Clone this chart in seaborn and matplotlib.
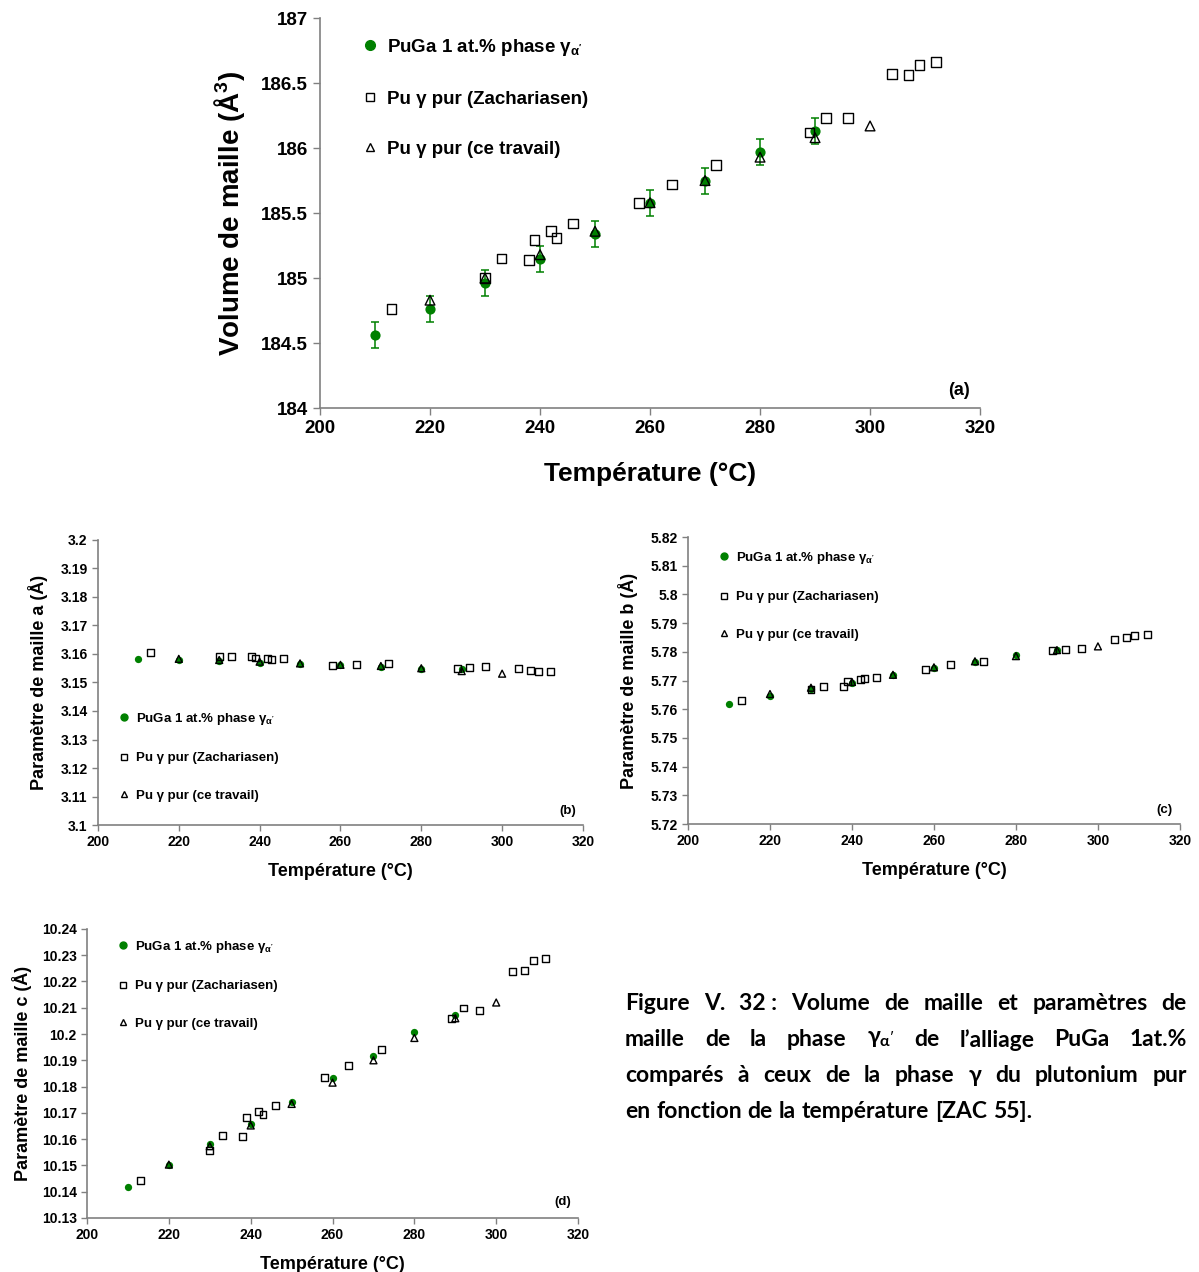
import numpy as np
import pandas as pd
import seaborn as sns
import matplotlib.pyplot as plt
from matplotlib.lines import Line2D
from matplotlib.ticker import FuncFormatter

sns.set_style("white")
plt.rcParams['font.family'] = ['Liberation Sans', 'DejaVu Sans']
plt.rcParams['font.weight'] = 'bold'
plt.rcParams['mathtext.default'] = 'regular'
plt.rcParams['text.color'] = 'black'
plt.rcParams['axes.labelcolor'] = 'black'
plt.rcParams['xtick.color'] = 'black'
plt.rcParams['ytick.color'] = 'black'

# temperatures (°C)
t_puga = [210, 220, 230, 240, 250, 260, 270, 280, 290]
t_trav = [220, 230, 240, 250, 260, 270, 280, 290, 300]
t_zach = [213, 230, 233, 238, 239, 242, 243, 246, 258, 264, 272, 289, 292, 296, 304, 307, 309, 312]

# (a) volume de maille
vol_puga = [184.56, 184.76, 184.96, 185.15, 185.34, 185.575, 185.75, 185.97, 186.13]
vol_err = [0.1, 0.1, 0.1, 0.1, 0.1, 0.1, 0.1, 0.1, 0.1]
vol_trav = [184.83, 185.0, 185.18, 185.36, 185.58, 185.75, 185.93, 186.08, 186.17]
vol_zach = [184.76, 185.0, 185.15, 185.14, 185.29, 185.36, 185.31, 185.42, 185.58, 185.72,
            185.87, 186.12, 186.23, 186.23, 186.57, 186.56, 186.64, 186.66]

# (b) parametre a
a_puga = [3.1584, 3.158, 3.1574, 3.157, 3.1564, 3.156, 3.1554, 3.1548, 3.1546]
a_trav = [3.1583, 3.1579, 3.1573, 3.1567, 3.1562, 3.1558, 3.155, 3.154, 3.1531]
a_zach = [3.1605, 3.159, 3.159, 3.159, 3.1586, 3.1584, 3.158, 3.1585, 3.1561, 3.1564,
          3.1565, 3.155, 3.1554, 3.1555, 3.1548, 3.1543, 3.154, 3.1539]

# (c) parametre b
b_puga = [5.7619, 5.7645, 5.7669, 5.7692, 5.7719, 5.7744, 5.7764, 5.779, 5.7806]
b_trav = [5.7653, 5.7675, 5.7695, 5.772, 5.7746, 5.7767, 5.7785, 5.7806, 5.7819]
b_zach = [5.7629, 5.7669, 5.768, 5.768, 5.7695, 5.7702, 5.7708, 5.7711, 5.7739, 5.7755,
          5.7767, 5.7804, 5.7809, 5.7811, 5.7842, 5.7849, 5.7857, 5.786]

# (d) parametre c
c_puga = [10.1418, 10.1503, 10.158, 10.1657, 10.174, 10.1834, 10.1916, 10.2006, 10.2072]
c_trav = [10.1503, 10.1573, 10.1652, 10.1734, 10.1815, 10.19, 10.1985, 10.206, 10.212]
c_zach = [10.1443, 10.1558, 10.1615, 10.1611, 10.1684, 10.1706, 10.1692, 10.1728, 10.1834, 10.188,
          10.1941, 10.206, 10.2099, 10.2088, 10.2239, 10.2242, 10.2281, 10.2289]

lab_puga = "PuGa 1 at.% phase γ$_{α'}$"
lab_zach = "Pu γ pur (Zachariasen)"
lab_trav = "Pu γ pur (ce travail)"
GREEN = '#008000'


def plot_panel(ax, y_puga, y_zach, y_trav, ms, err=None):
    if err is not None:
        ax.errorbar(t_puga, y_puga, yerr=err, fmt='none', ecolor=GREEN, elinewidth=1.1,
                    capsize=3, capthick=1.1, zorder=2)
    sns.scatterplot(x=t_puga, y=y_puga, ax=ax, marker='o', color=GREEN, s=ms ** 2 * 1.1,
                    linewidth=0, zorder=3)
    sns.scatterplot(x=t_zach, y=y_zach, ax=ax, marker='s', s=ms ** 2, zorder=4)
    ax.collections[-1].set_facecolor('none')
    ax.collections[-1].set_edgecolor('black')
    ax.collections[-1].set_linewidth(1.0)
    sns.scatterplot(x=t_trav, y=y_trav, ax=ax, marker='^', s=ms ** 2, zorder=5)
    ax.collections[-1].set_facecolor('none')
    ax.collections[-1].set_edgecolor('black')
    ax.collections[-1].set_linewidth(1.0)
    ax.set_xlim(200, 320)
    ax.set_xticks(np.arange(200, 321, 20))
    for s in ['top', 'right']:
        ax.spines[s].set_visible(False)
    for s in ['left', 'bottom']:
        ax.spines[s].set_color('#808080')
        ax.spines[s].set_linewidth(1.2)
    ax.tick_params(direction='out', length=5, color='#808080', width=1.0, left=True, bottom=True)
    ax.yaxis.set_major_formatter(FuncFormatter(lambda v, p: '{:g}'.format(round(v, 4))))


def make_legend(ax, x0, y0, fs, ms, spacing):
    handles = [
        Line2D([], [], marker='o', ls='none', color=GREEN, markersize=ms),
        Line2D([], [], marker='s', ls='none', mfc='none', mec='black', markersize=ms * 0.9, mew=1.0),
        Line2D([], [], marker='^', ls='none', mfc='none', mec='black', markersize=ms * 0.9, mew=1.0),
    ]
    ax.legend(handles, [lab_puga, lab_zach, lab_trav], loc='upper left', bbox_to_anchor=(x0, y0),
              frameon=False, prop={'size': fs, 'weight': 'bold'}, labelspacing=spacing,
              handlelength=0.6, handletextpad=0.6, borderaxespad=0, borderpad=0)


fig = plt.figure(figsize=(11.99, 12.72), dpi=100)

# panel (a)
ax_a = fig.add_axes([0.2669, 0.6792, 0.5505, 0.3066])
plot_panel(ax_a, vol_puga, vol_zach, vol_trav, ms=7, err=vol_err)
ax_a.set_ylim(184, 187)
ax_a.set_yticks(np.arange(184, 187.01, 0.5))
ax_a.tick_params(labelsize=13.5)
ax_a.set_xlabel('Température (°C)', fontsize=19, fontweight='bold', labelpad=18)
ax_a.set_ylabel('Volume de maille (Å$^3$)', fontsize=20, fontweight='bold', labelpad=10)
ax_a.text(0.985, 0.045, '(a)', transform=ax_a.transAxes, ha='right', va='center',
          fontsize=13, fontweight='bold')
make_legend(ax_a, 0.067, 0.952, 13.5, 7, 1.75)

# panel (b)
ax_b = fig.add_axes([0.0817, 0.3514, 0.4045, 0.2241])
plot_panel(ax_b, a_puga, a_zach, a_trav, ms=5)
ax_b.set_ylim(3.1, 3.2)
ax_b.set_yticks(np.linspace(3.1, 3.2, 11))
ax_b.tick_params(labelsize=10, length=4)
ax_b.set_xlabel('Température (°C)', fontsize=13, fontweight='bold', labelpad=10)
ax_b.set_ylabel('Paramètre de maille a (Å)', fontsize=13, fontweight='bold', labelpad=9)
ax_b.text(0.985, 0.05, '(b)', transform=ax_b.transAxes, ha='right', va='center',
          fontsize=9.5, fontweight='bold')
make_legend(ax_b, 0.045, 0.40, 9.5, 5, 1.9)

# panel (c)
ax_c = fig.add_axes([0.5738, 0.3522, 0.4103, 0.2256])
plot_panel(ax_c, b_puga, b_zach, b_trav, ms=5)
ax_c.set_ylim(5.72, 5.82)
ax_c.set_yticks(np.linspace(5.72, 5.82, 11))
ax_c.tick_params(labelsize=10, length=4)
ax_c.set_xlabel('Température (°C)', fontsize=13, fontweight='bold', labelpad=10)
ax_c.set_ylabel('Paramètre de maille b (Å)', fontsize=13, fontweight='bold', labelpad=9)
ax_c.text(0.985, 0.05, '(c)', transform=ax_c.transAxes, ha='right', va='center',
          fontsize=9.5, fontweight='bold')
make_legend(ax_c, 0.065, 0.955, 9.5, 5, 1.9)

# panel (d)
ax_d = fig.add_axes([0.0726, 0.0425, 0.4095, 0.2272])
plot_panel(ax_d, c_puga, c_zach, c_trav, ms=5)
ax_d.set_ylim(10.13, 10.24)
ax_d.set_yticks(np.linspace(10.13, 10.24, 12))
ax_d.tick_params(labelsize=10, length=4)
ax_d.set_xlabel('Température (°C)', fontsize=13, fontweight='bold', labelpad=10)
ax_d.set_ylabel('Paramètre de maille c (Å)', fontsize=13, fontweight='bold', labelpad=7)
ax_d.text(0.985, 0.055, '(d)', transform=ax_d.transAxes, ha='right', va='center',
          fontsize=9.5, fontweight='bold')
make_legend(ax_d, 0.065, 0.965, 9.5, 5, 1.9)

# caption, justified line by line
caption = [
    ["Figure", "V.", "32 :", "Volume", "de", "maille", "et", "paramètres", "de"],
    ["maille", "de", "la", "phase", "γ$_{α'}$", "de", "l’alliage", "PuGa", "1at.%"],
    ["comparés", "à", "ceux", "de", "la", "phase", "γ", "du", "plutonium", "pur"],
    ["en", "fonction", "de", "la", "température", "[ZAC", "55]."],
]
x_left, x_right = 625, 1187
y_lines = [1003, 1040, 1076, 1111]
renderer = fig.canvas.get_renderer()
for i, words in enumerate(caption):
    y = 1 - y_lines[i] / 1272
    txts = [fig.text(0, y, w, fontsize=16.5, fontweight='bold', family=['Lato', 'DejaVu Sans'],
                     va='center', ha='left') for w in words]
    widths = [t.get_window_extent(renderer).width for t in txts]
    if i < len(caption) - 1:
        gap = (x_right - x_left - sum(widths)) / (len(words) - 1)
    else:
        gap = 6
    x = x_left
    for t, w in zip(txts, widths):
        t.set_x(x / 1199)
        x += w + gap

fig.savefig('out.png', dpi=100)
